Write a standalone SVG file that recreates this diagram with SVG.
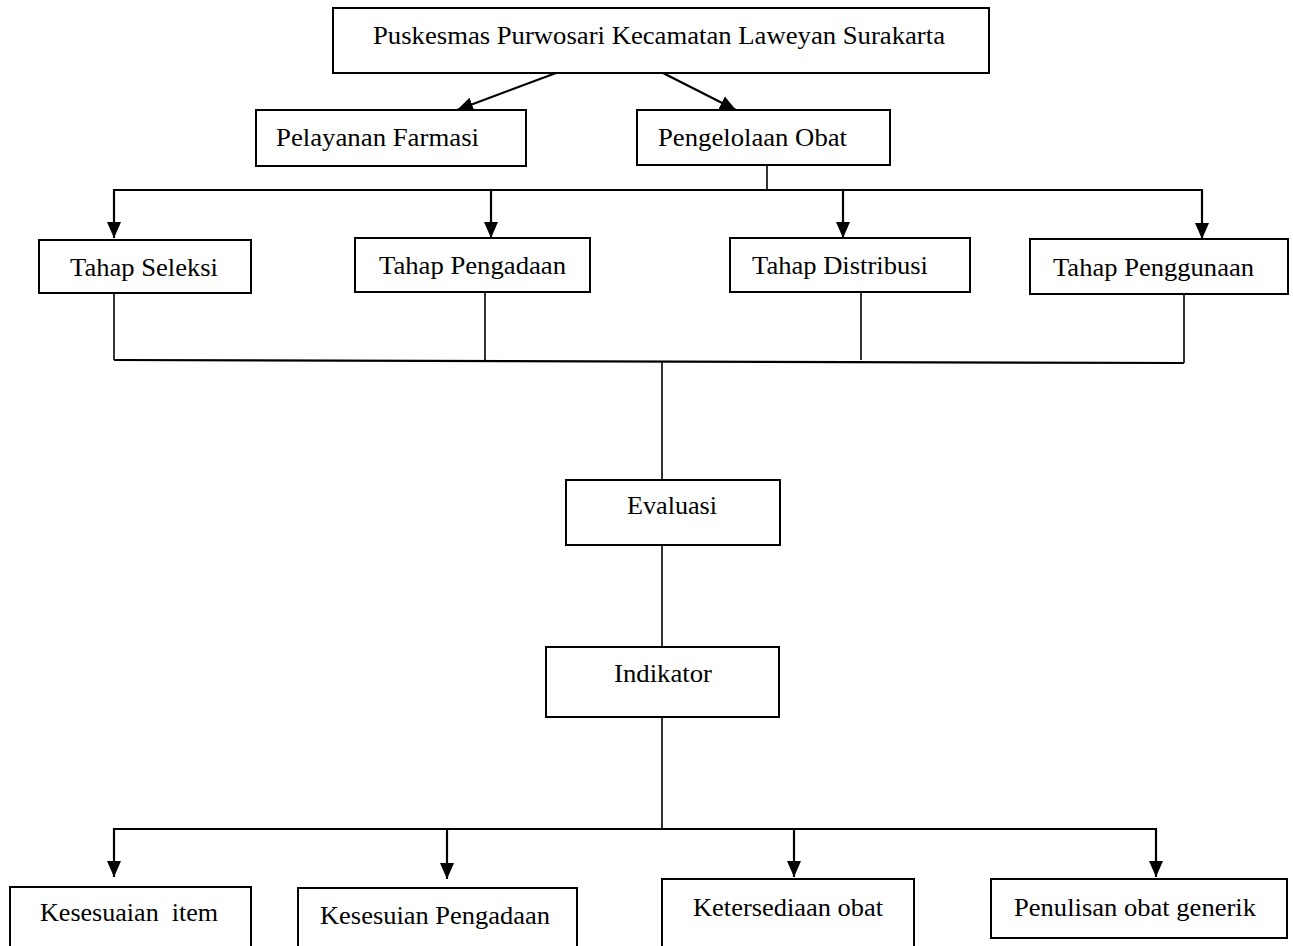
<svg xmlns="http://www.w3.org/2000/svg" width="1293" height="946" viewBox="0 0 1293 946">
<style>
.box{fill:#fff;stroke:#000;stroke-width:2}
.t{font-family:"Liberation Serif","Times New Roman",serif;font-size:26px;fill:#000}
.ln{stroke:#000;stroke-width:1.6;fill:none}
.ar{stroke:#000;stroke-width:2.2;fill:none;marker-end:url(#ah)}
</style>
<defs>
<marker id="ah" markerUnits="userSpaceOnUse" markerWidth="16" markerHeight="16" viewBox="0 0 16 16" refX="16" refY="8" orient="auto">
<path d="M0,1 L16,8 L0,15 Z" fill="#000"/>
</marker>
</defs>
<g id="connectors">
<line class="ar" x1="556" y1="73" x2="457" y2="110"/>
<line class="ar" x1="663" y1="73" x2="736" y2="110"/>
<line class="ln" x1="767" y1="165" x2="767" y2="190"/>
<line class="ar" x1="114" y1="190" x2="1202" y2="190" style="marker-end:none"/>
<line class="ar" x1="114" y1="189" x2="114" y2="238"/>
<line class="ar" x1="491" y1="190" x2="491" y2="238"/>
<line class="ar" x1="843" y1="190" x2="843" y2="238"/>
<line class="ar" x1="1202" y1="189" x2="1202" y2="239"/>
<line class="ln" x1="114" y1="293" x2="114" y2="360"/>
<line class="ln" x1="485" y1="292" x2="485" y2="360"/>
<line class="ln" x1="861" y1="292" x2="861" y2="360"/>
<line class="ln" x1="1184" y1="294" x2="1184" y2="363"/>
<line class="ar" x1="114" y1="360" x2="1184" y2="363" style="marker-end:none"/>
<line class="ln" x1="662" y1="362" x2="662" y2="480"/>
<line class="ln" x1="662" y1="545" x2="662" y2="647"/>
<line class="ln" x1="662" y1="717" x2="662" y2="829"/>
<line class="ar" x1="114" y1="829" x2="1156" y2="829" style="marker-end:none"/>
<line class="ar" x1="114" y1="828" x2="114" y2="877"/>
<line class="ar" x1="447" y1="829" x2="447" y2="879"/>
<line class="ar" x1="794" y1="829" x2="794" y2="877"/>
<line class="ar" x1="1156" y1="828" x2="1156" y2="877"/>
</g>
<g id="n-puskesmas"><rect class="box" x="333" y="8" width="656" height="65"/><text class="t" x="373" y="44" textLength="572" lengthAdjust="spacingAndGlyphs">Puskesmas Purwosari Kecamatan Laweyan Surakarta</text></g>
<g id="n-pelayanan"><rect class="box" x="256" y="110" width="270" height="56"/><text class="t" x="276" y="146" textLength="203" lengthAdjust="spacingAndGlyphs">Pelayanan Farmasi</text></g>
<g id="n-pengelolaan"><rect class="box" x="637" y="110" width="253" height="55"/><text class="t" x="658" y="146" textLength="189" lengthAdjust="spacingAndGlyphs">Pengelolaan Obat</text></g>
<g id="n-seleksi"><rect class="box" x="39" y="240" width="212" height="53"/><text class="t" x="70" y="276" textLength="148" lengthAdjust="spacingAndGlyphs">Tahap Seleksi</text></g>
<g id="n-pengadaan"><rect class="box" x="355" y="238" width="235" height="54"/><text class="t" x="379" y="274" textLength="187" lengthAdjust="spacingAndGlyphs">Tahap Pengadaan</text></g>
<g id="n-distribusi"><rect class="box" x="730" y="238" width="240" height="54"/><text class="t" x="752" y="274" textLength="176" lengthAdjust="spacingAndGlyphs">Tahap Distribusi</text></g>
<g id="n-penggunaan"><rect class="box" x="1030" y="239" width="258" height="55"/><text class="t" x="1053" y="276" textLength="201" lengthAdjust="spacingAndGlyphs">Tahap Penggunaan</text></g>
<g id="n-evaluasi"><rect class="box" x="566" y="480" width="214" height="65"/><text class="t" x="627" y="514" textLength="90" lengthAdjust="spacingAndGlyphs">Evaluasi</text></g>
<g id="n-indikator"><rect class="box" x="546" y="647" width="233" height="70"/><text class="t" x="614" y="682" textLength="98" lengthAdjust="spacingAndGlyphs">Indikator</text></g>
<g id="n-kesesuaian-item"><rect class="box" x="10" y="887" width="241" height="70"/><text class="t" x="40" y="921" textLength="178" lengthAdjust="spacingAndGlyphs" xml:space="preserve">Kesesuaian  item</text></g>
<g id="n-kesesuian-pengadaan"><rect class="box" x="298" y="888" width="279" height="70"/><text class="t" x="320" y="924" textLength="230" lengthAdjust="spacingAndGlyphs">Kesesuian Pengadaan</text></g>
<g id="n-ketersediaan"><rect class="box" x="662" y="879" width="252" height="78"/><text class="t" x="693" y="916" textLength="190" lengthAdjust="spacingAndGlyphs">Ketersediaan obat</text></g>
<g id="n-penulisan"><rect class="box" x="991" y="879" width="296" height="59"/><text class="t" x="1014" y="916" textLength="242" lengthAdjust="spacingAndGlyphs">Penulisan obat generik</text></g>
</svg>
